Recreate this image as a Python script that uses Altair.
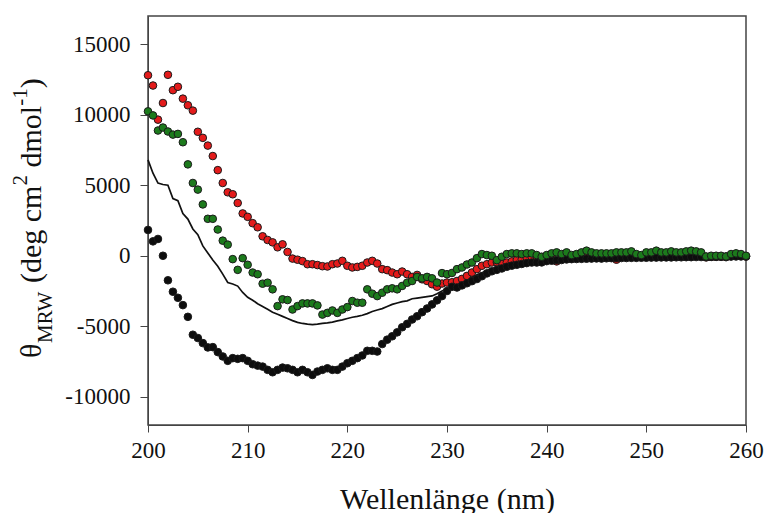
import altair as alt
import numpy as np
import pandas as pd

# Wavelength grid (nm), 0.5 nm steps
WAVELENGTH = list(np.round(np.arange(200.0, 260.25, 0.5), 1))

# Mean residue ellipticity (deg cm2 dmol-1) for each sample
RED = [
    12800, 12070, 9650, 10830, 12830, 11740, 11980, 11140, 10670, 10290,
    8790, 8360, 7810, 7070, 6070, 5160, 4500, 4360, 3740, 3000,
    2760, 2310, 2020, 1380, 1120, 950, 600, 810, 270, -200,
    -280, -380, -600, -600, -660, -740, -760, -600, -550, -360,
    -710, -830, -790, -710, -480, -360, -550, -950, -1020, -1190,
    -1310, -1120, -1310, -1500, -1360, -1670, -1790, -2020, -2190, -1970,
    -1900, -1880, -1790, -1640, -1430, -1190, -950, -710, -600, -480,
    -460, -450, -480, -400, -300, -250, -150, -100, -80, -100,
    -60, 0, -400, -100, 50, -50, 20, 80, 120, 80,
    50, 40, 60, 50, -280, 60, 100, 120, 0, -20,
    80, 100, 150, 100, 80, 120, 100, 80, 140, 150,
    120, 80, -120, -80, -80, -70, -100, 20, 50, 30,
    -60,
]

GREEN = [
    10240, 9950, 8880, 9090, 8810, 8590, 8640, 8050, 6480, 5160,
    4690, 3640, 2620, 2620, 1860, 1070, 790, -240, -1000, -170,
    -640, -1190, -1310, -1980, -1910, -2380, -3570, -3090, -3140, -3810,
    -3570, -3380, -3380, -3380, -3520, -4170, -4050, -3880, -4050, -3810,
    -3640, -3210, -3330, -3330, -2380, -2690, -2860, -2620, -2380, -2310,
    -2380, -2140, -1910, -1790, -1500, -1600, -1500, -1600, -1900, -1230,
    -1310, -1220, -950, -830, -620, -480, -170, 120, 50, 0,
    -310, -70, 120, 170, 170, 120, 170, 170, 50, -70,
    50, 170, 240, 120, 240, 50, 120, 240, 360, 240,
    170, 170, 170, 170, 240, 240, 240, 310, 120, 50,
    240, 240, 360, 240, 240, 310, 240, 240, 310, 360,
    310, 240, -50, 0, 0, 0, -50, 120, 170, 120,
    0,
]

BLACK = [
    1830, 1020, 1190, 0, -1740, -2550, -2980, -3500, -4330, -5600,
    -5830, -6190, -6500, -6480, -6830, -7140, -7450, -7260, -7310, -7260,
    -7450, -7690, -7790, -7860, -8090, -8260, -8090, -7930, -7980, -8090,
    -8260, -8090, -8260, -8450, -8210, -8090, -7980, -8090, -8090, -7860,
    -7620, -7450, -7260, -7070, -6740, -6740, -6790, -6260, -5950, -5710,
    -5430, -5070, -4830, -4520, -4290, -4000, -3740, -3450, -3160, -2860,
    -2500, -2200, -2250, -2100, -1950, -1800, -1650, -1450, -1250, -1100,
    -1000, -900, -780, -700, -640, -580, -520, -480, -480, -470,
    -380, -350, -320, -300, -260, -240, -230, -220, -210, -200,
    -190, -200, -180, -170, -170, -160, -160, -150, -150, -140,
    -140, -130, -130, -120, -120, -120, -110, -110, -100, -100,
    -90, -90, -80, -80, -70, -70, -60, -60, -50, -50,
    -50,
]

REFERENCE_LINE = [
    6800, 5850, 5150, 5050, 5000, 4050, 3900, 3000, 2600, 1900,
    1500, 700, 200, -300, -750, -1300, -1900, -2000, -2150, -2600,
    -2950, -3150, -3400, -3600, -3800, -4000, -4150, -4300, -4450, -4600,
    -4720, -4800, -4850, -4880, -4850, -4800, -4760, -4700, -4620, -4550,
    -4450, -4360, -4300, -4220, -4100, -3950, -3850, -3750, -3600, -3450,
    -3350, -3250, -3200, -3050, -3000, -2950, -2900, -2850, -2700, -2500,
    -2350, -2150, -1950, -1800, -1650, -1500, -1350, -1200, -1050, -950,
    -850, -750, -650, -550, -480, -420, -360, -320, -280, -250,
    -220, -200, -190, -180, -170, -160, -150, -150, -140, -140,
    -130, -130, -120, -120, -120, -110, -110, -110, -100, -100,
    -100, -90, -90, -90, -80, -80, -80, -70, -70, -70,
    -60, -60, -60, -50, -50, -50, -40, -40, -40, -30,
    -30,
]

X_TICKS = [200, 210, 220, 230, 240, 250, 260]
Y_TICKS = [-10000, -5000, 0, 5000, 10000, 15000]

SERIF = "Liberation Serif, Times New Roman, Times, serif"

df = pd.DataFrame({
    "wl": WAVELENGTH * 4,
    "theta": RED + GREEN + BLACK + REFERENCE_LINE,
    "series": (["red"] * len(RED) + ["green"] * len(GREEN)
               + ["black"] * len(BLACK) + ["line"] * len(REFERENCE_LINE)),
})

x_enc = alt.X(
    "wl:Q",
    scale=alt.Scale(domain=[200, 260], nice=False, zero=False),
    axis=alt.Axis(
        values=X_TICKS, title="Wellenlänge (nm)", grid=False,
        tickSize=7, labelPadding=7, labelFontSize=23, labelFont=SERIF,
        labelColor="#111", titleFont=SERIF, titleFontSize=30,
        titleFontWeight="normal", titleColor="#111",
        titleBaseline="alphabetic", titleY=83,
        domainColor="#444", tickColor="#444", labelFlush=False,
    ),
)
y_enc = alt.Y(
    "theta:Q",
    scale=alt.Scale(domain=[-12000, 17000], nice=False, zero=False),
    axis=alt.Axis(
        values=Y_TICKS, title=None, grid=False, tickSize=8, labelPadding=10,
        labelFontSize=23, labelFont=SERIF, labelColor="#111",
        labelExpr="'' + datum.value", domainColor="#444", tickColor="#444",
        labelFlush=False,
    ),
)

base = alt.Chart(df)

line = base.transform_filter(alt.datum.series == "line").mark_line(
    color="#111", strokeWidth=1.7
).encode(x=x_enc, y=y_enc)


def dots(name, fill):
    return base.transform_filter(alt.datum.series == name).mark_circle(
        size=58, color=fill, opacity=1, stroke="#1a1a1a", strokeWidth=1
    ).encode(x=x_enc, y=y_enc)


black_pts = dots("black", "#0d0d0d")
red_pts = dots("red", "#e31b1b")
green_pts = dots("green", "#1c7a1c")

# Y-axis title with subscript / superscripts, drawn as rotated text pieces
# (each piece starts where the previous one ends, reading bottom to top)
title_src = pd.DataFrame({"k": [0]})
MAIN = 30
SMALL = 21
BASE_X = 41 - 148
pieces = [
    ("θ", MAIN, BASE_X, 358),
    ("MRW", SMALL, BASE_X + 11, 343),
    ("(deg cm", MAIN, BASE_X, 283),
    ("2", SMALL, BASE_X - 14, 185.5),
    ("dmol", MAIN, BASE_X, 167.5),
    ("-1", SMALL, BASE_X - 14, 105.8),
    (")", MAIN, BASE_X, 88.3),
]
title_layers = []
for txt, fs, px, py in pieces:
    title_layers.append(
        alt.Chart(title_src).mark_text(
            text=txt, font=SERIF, fontSize=fs, angle=270, align="left",
            baseline="alphabetic", color="#111",
        ).encode(x=alt.value(px), y=alt.value(py - 16))
    )

chart = alt.layer(line, red_pts, black_pts, green_pts, *title_layers).properties(
    width=598,
    height=409,
    autosize=alt.AutoSizeParams(type="none"),
    padding={"left": 148, "top": 16, "right": 22, "bottom": 88},
    background="white",
).configure_view(
    stroke="#444", strokeWidth=1.5
)

chart.save("out.html", embed_options={"renderer": "svg", "actions": False})
